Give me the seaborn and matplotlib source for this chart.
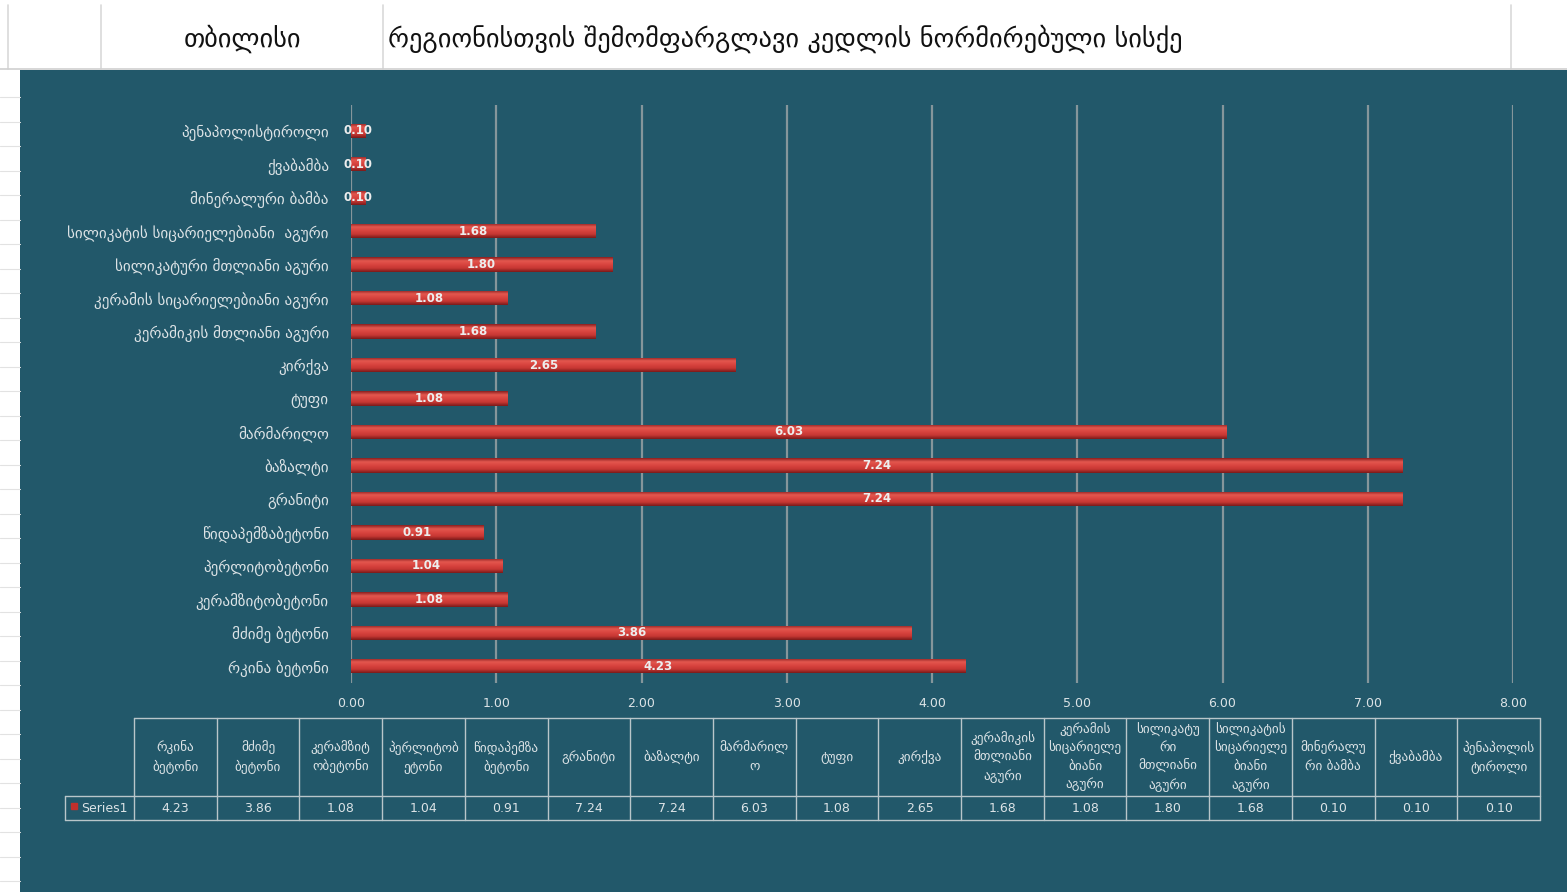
import numpy as np
import matplotlib
matplotlib.use("Agg")
import matplotlib.pyplot as plt
from matplotlib.colors import LinearSegmentedColormap
import seaborn as sns
import pandas as pd

################# Data #################

categories = [
    "რკინა ბეტონი", "მძიმე ბეტონი", "კერამზიტობეტონი", "პერლიტობეტონი",
    "წიდაპემზაბეტონი", "გრანიტი", "ბაზალტი", "მარმარილო", "ტუფი", "კირქვა",
    "კერამიკის მთლიანი აგური", "კერამის სიცარიელებიანი აგური",
    "სილიკატური მთლიანი აგური", "სილიკატის სიცარიელებიანი  აგური",
    "მინერალური ბამბა", "ქვაბამბა", "პენაპოლისტიროლი",
]
values = [4.23, 3.86, 1.08, 1.04, 0.91, 7.24, 7.24, 6.03, 1.08, 2.65,
          1.68, 1.08, 1.80, 1.68, 0.10, 0.10, 0.10]

# header labels of the data table (wrapped like in the sheet)
table_labels = [
    "რკინა\nბეტონი", "მძიმე\nბეტონი", "კერამზიტ\nობეტონი", "პერლიტობ\nეტონი",
    "წიდაპემზა\nბეტონი", "გრანიტი", "ბაზალტი", "მარმარილ\nო", "ტუფი", "კირქვა",
    "კერამიკის\nმთლიანი\nაგური", "კერამის\nსიცარიელე\nბიანი\nაგური",
    "სილიკატუ\nრი\nმთლიანი\nაგური", "სილიკატის\nსიცარიელე\nბიანი\nაგური",
    "მინერალუ\nრი ბამბა", "ქვაბამბა", "პენაპოლის\nტიროლი",
]
x_ticks = [0, 1, 2, 3, 4, 5, 6, 7, 8]
series_name = "Series1"
city = "თბილისი"
title = "რეგიონისთვის შემომფარგლავი კედლის ნორმირებული სისქე"

df = pd.DataFrame({"material": categories, "value": values})

################# Style #################

TEAL = "#22586A"
TXT = "#DCE3E6"
GRID = "#85969B"
LINE = "#B9C6CA"

sns.set_style("white")
plt.rcParams["font.family"] = ["DejaVu Sans"]

W, H = 1567, 894
fig = plt.figure(figsize=(W / 100, H / 100), dpi=100)
fig.patch.set_facecolor("white")

# background overlay in pixel coordinates (sheet cells + chart area)
bg = fig.add_axes([0, 0, 1, 1], zorder=0)
bg.set_xlim(0, W)
bg.set_ylim(H, 0)
bg.axis("off")
bg.add_patch(plt.Rectangle((20, 70), W - 20, 822, color=TEAL, lw=0))
for x in [8, 101, 383, 1511]:
    bg.plot([x, x], [5, 69], color="#D9D9D9", lw=1.2)
bg.plot([0, W], [69, 69], color="#D0D0D0", lw=1.2)
for y in np.arange(97, 890, 24.5):
    bg.plot([0, 20], [y, y], color="#E2E2E2", lw=0.8)
bg.text(242, 39, city, fontsize=19, ha="center", va="center", color="#111111")
bg.text(388, 39, title, fontsize=19, ha="left", va="center", color="#111111")

################# Bars #################

# top of the plot slightly above the first band, like the sheet gridlines
ax = fig.add_axes([351 / W, 1 - 683 / H, 1162 / W, 578 / H], zorder=2)
ax.set_facecolor("none")
sns.barplot(data=df, x="value", y="material", order=categories[::-1],
            orient="h", color="#CF3D3A", width=0.43, linewidth=0,
            ax=ax, zorder=3)

# cylinder-like shading on each bar
cmap = LinearSegmentedColormap.from_list(
    "bar", ["#8A1F1F", "#E3574F", "#D9443F", "#C63733", "#7A1A1A"])
grad = np.linspace(0, 1, 64).reshape(-1, 1)
for p in ax.patches:
    x0, y0, w, h = p.get_x(), p.get_y(), p.get_width(), p.get_height()
    im = ax.imshow(grad, cmap=cmap, aspect="auto", zorder=3.5,
                   extent=[x0, x0 + w, y0 + h, y0])
    im.set_clip_path(p)

ax.set_xlim(0, 8)
ax.set_ylim(16.5, -0.77)
ax.bar_label(ax.containers[0], labels=[f"{v:.2f}" for v in values[::-1]],
             label_type="center", color="#EDEDED", fontsize=8.5,
             fontweight="semibold", zorder=5)

ax.set_xticks(x_ticks)
ax.set_xticklabels([f"{t:.2f}" for t in x_ticks], color=TXT, fontsize=9)
ax.tick_params(axis="x", length=0, pad=10)
ax.tick_params(axis="y", length=0, pad=16, labelsize=10.9, labelcolor=TXT)
ax.set_xlabel("")
ax.set_ylabel("")
ax.grid(axis="x", color=GRID, lw=1.6, zorder=1)
ax.set_axisbelow(True)
for s in ax.spines.values():
    s.set_visible(False)

################# Data table #################

tb = fig.add_axes([0, 0, 1, 1], zorder=3)
tb.set_xlim(0, W)
tb.set_ylim(H, 0)
tb.axis("off")
x_left, x_right = 134, 1540
top, mid, bot = 718, 796, 820
cw = (x_right - x_left) / len(categories)
tb.plot([x_left, x_right], [top, top], color=LINE, lw=1)
tb.plot([65, x_right], [mid, mid], color=LINE, lw=1)
tb.plot([65, x_right], [bot, bot], color=LINE, lw=1)
tb.plot([65, 65], [mid, bot], color=LINE, lw=1)
for i in range(len(categories) + 1):
    xx = x_left + i * cw
    tb.plot([xx, xx], [top, bot], color=LINE, lw=1)
for i, (lab, v) in enumerate(zip(table_labels, values)):
    cx = x_left + (i + 0.5) * cw
    tb.text(cx, (top + mid) / 2, lab, ha="center", va="center", fontsize=9.5,
            color=TXT, linespacing=1.45)
    tb.text(cx, (mid + bot) / 2 + 1, f"{v:.2f}", ha="center", va="center",
            fontsize=9, color=TXT)
tb.add_patch(plt.Rectangle((71, 803), 6, 6, color="#C0302C"))
tb.text(81, (mid + bot) / 2, series_name, ha="left", va="center", fontsize=9,
        color=TXT)

plt.savefig("out.png", dpi=100, facecolor=fig.get_facecolor())
plt.close()
